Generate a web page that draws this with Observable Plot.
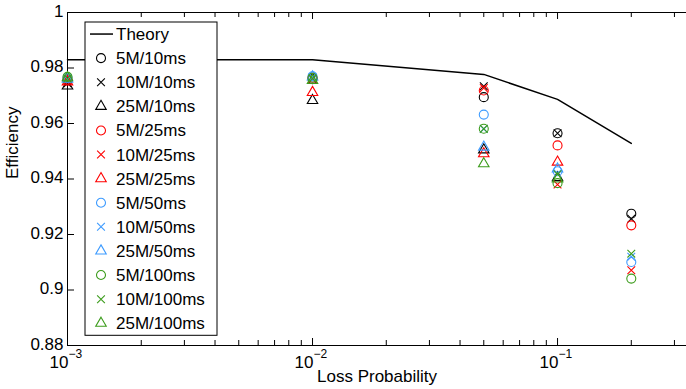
<!DOCTYPE html>
<html><head><meta charset="utf-8">
<script src="https://cdn.jsdelivr.net/npm/d3@7"></script>
<script src="https://cdn.jsdelivr.net/npm/@observablehq/plot@0.6"></script>
<style>body{margin:0;background:#fff} svg{display:block}</style>
</head><body><div id="chart"></div>
<script>
// ---- data ----
const lossProb = [0.001, 0.01, 0.05, 0.1, 0.2];
const theory = [0.9830, 0.9830, 0.9777, 0.9687, 0.9528];

const seriesNames = ["5M/10ms","10M/10ms","25M/10ms","5M/25ms","10M/25ms","25M/25ms",
                     "5M/50ms","10M/50ms","25M/50ms","5M/100ms","10M/100ms","25M/100ms"];
const blue = "#3d9bff", green = "#3c9c1c";
const seriesColors = ["black","black","black","red","red","red",blue,blue,blue,green,green,green];
const seriesSymbols = ["circle","times","triangle","circle","times","triangle",
                       "circle","times","triangle","circle","times","triangle"];

const eff5M10   = [0.9755, 0.9760, 0.9695, 0.9565, 0.9275];
const eff10M10  = [0.9745, 0.9760, 0.9734, 0.9565, 0.9257];
const eff25M10  = [0.9735, 0.9683, 0.9505, 0.9405, null];
const eff5M25   = [0.9758, 0.9765, 0.9719, 0.9521, 0.9233];
const eff10M25  = [0.9755, 0.9760, 0.9728, 0.9380, 0.9071];
const eff25M25  = [0.9750, 0.9712, 0.9491, 0.9461, null];
const eff5M50   = [0.9765, 0.9770, 0.9632, 0.9428, 0.9101];
const eff10M50  = [0.9760, 0.9768, 0.9580, 0.9420, 0.9120];
const eff25M50  = [0.9760, 0.9768, 0.9515, 0.9436, null];
const eff5M100  = [0.9768, 0.9765, 0.9581, 0.9385, 0.9041];
const eff10M100 = [0.9762, 0.9762, 0.9581, 0.9417, 0.9131];
const eff25M100 = [0.9765, 0.9755, 0.9455, 0.9400, null];
const seriesValues = [eff5M10, eff10M10, eff25M10, eff5M25, eff10M25, eff25M25,
                      eff5M50, eff10M50, eff25M50, eff5M100, eff10M100, eff25M100];

const xTicks = [0.001, 0.01, 0.1];
const xTickExp = ["\u22123", "\u22122", "\u22121"];
const xMinor = [0.002,0.003,0.004,0.005,0.006,0.007,0.008,0.009,
                0.02,0.03,0.04,0.05,0.06,0.07,0.08,0.09,0.2,0.3];
const yTicks = [0.88, 0.9, 0.92, 0.94, 0.96, 0.98, 1];
const yTickLabels = ["0.88","0.9","0.92","0.94","0.96","0.98","1"];

// ---- build ----
const W = 686, H = 389, mL = 67, mR = 0, mT = 12, mB = 44;
const fW = W - mL - mR, fH = H - mT - mB;
const FONT = "Liberation Sans, Arial, Helvetica, sans-serif";
const FS = 17;

const theoryRows = lossProb.map((p, j) => ({p, v: theory[j]}));
const points = [];
seriesNames.forEach((name, i) => lossProb.forEach((p, j) => {
  const v = seriesValues[i][j];
  if (v != null) points.push({name, i, p, v});
}));
const symR = {circle: 4.5, times: 3.6, triangle: 3.9};

const chart = Plot.plot({
  width: W, height: H,
  marginLeft: mL, marginRight: mR, marginTop: mT, marginBottom: mB,
  style: {fontFamily: FONT, fontSize: FS + "px", background: "white", color: "black"},
  x: {type: "log", domain: [0.001, 0.336], axis: null},
  y: {domain: [0.88, 1], axis: null},
  marks: [
    Plot.frame({anchor: "left", stroke: "black"}),
    Plot.frame({anchor: "top", stroke: "black"}),
    Plot.frame({anchor: "bottom", stroke: "black"}),
    Plot.tickX(xTicks, {x: d => d, insetTop: fH - 7, stroke: "black"}),
    Plot.tickX(xTicks, {x: d => d, insetBottom: fH - 7, stroke: "black"}),
    Plot.tickX(xMinor, {x: d => d, insetTop: fH - 5, stroke: "black"}),
    Plot.tickX(xMinor, {x: d => d, insetBottom: fH - 5, stroke: "black"}),
    Plot.tickY(yTicks, {y: d => d, insetRight: fW - 7, stroke: "black"}),
    Plot.text(yTicks, {y: d => d, text: (d, i) => yTickLabels[i], frameAnchor: "left",
      textAnchor: "end", dx: -4, dy: -1, fontSize: FS}),
    Plot.text(xTicks, {x: d => d, text: () => "10", frameAnchor: "bottom",
      textAnchor: "end", dx: 1, dy: 22, fontSize: FS}),
    Plot.text(xTicks, {x: d => d, text: (d, i) => xTickExp[i], frameAnchor: "bottom",
      textAnchor: "start", dx: 1, dy: 12, fontSize: 12}),
    Plot.text(["Loss Probability"], {frameAnchor: "bottom", dy: 36, fontSize: FS}),
    Plot.text(["Efficiency"], {frameAnchor: "left", dx: -55, rotate: -90, fontSize: FS}),
    Plot.line(theoryRows, {x: "p", y: "v", stroke: "black", strokeWidth: 1.5}),
    ...seriesNames.map((name, i) => Plot.dot(points.filter(d => d.i === i), {
      x: "p", y: "v", symbol: seriesSymbols[i], r: symR[seriesSymbols[i]],
      stroke: seriesColors[i], fill: "none", strokeWidth: 1.1
    }))
  ]
});
document.getElementById("chart").appendChild(chart);

// ---- legend ----
const svg = d3.select(chart);
const lx = 85, ly = 22, lw = 132, rowH = 24.1;
const lg = svg.append("g").attr("font-family", FONT).attr("font-size", FS)
  .attr("text-anchor", "start");
lg.append("rect").attr("x", lx).attr("y", ly).attr("width", lw).attr("height", rowH * 13)
  .attr("fill", "white").attr("stroke", "black");
const legendItems = [{name: "Theory", kind: "line"}].concat(
  seriesNames.map((n, i) => ({name: n, kind: seriesSymbols[i], color: seriesColors[i]})));
const d3sym = {circle: d3.symbolCircle, times: d3.symbolTimes, triangle: d3.symbolTriangle};
legendItems.forEach((it, k) => {
  const cy = ly + rowH / 2 + k * rowH;
  if (it.kind === "line") {
    lg.append("line").attr("x1", lx + 5).attr("x2", lx + 28).attr("y1", cy).attr("y2", cy)
      .attr("stroke", "black").attr("stroke-width", 1.5);
  } else {
    const r = symR[it.kind];
    lg.append("path").attr("d", d3.symbol(d3sym[it.kind], Math.PI * r * r)())
      .attr("transform", `translate(${lx + 16},${cy})`)
      .attr("fill", "none").attr("stroke", it.color).attr("stroke-width", 1.1);
  }
  lg.append("text").attr("x", lx + 31).attr("y", cy).attr("dy", "0.35em")
    .attr("text-anchor", "start").text(it.name);
});
</script>
</body></html>
